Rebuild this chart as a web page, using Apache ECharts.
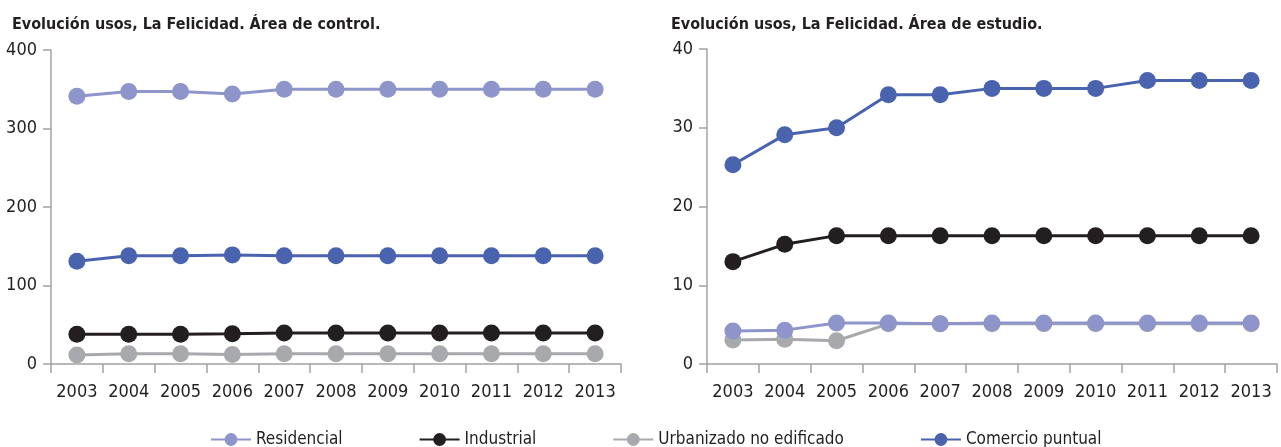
<!DOCTYPE html>
<html>
<head>
<meta charset="utf-8">
<script src="https://cdn.jsdelivr.net/npm/echarts@6/dist/echarts.min.js"></script>
<style>
  html, body { margin: 0; padding: 0; background: #fff; }
  #chart { width: 1281px; height: 447px; }
</style>
</head>
<body>
<div id="chart"></div>
<script>
const years = ['2003', '2004', '2005', '2006', '2007', '2008', '2009', '2010', '2011', '2012', '2013'];

// Área de control
const controlResidencial = [341, 347, 347, 344, 350, 350, 350, 350, 350, 350, 350];
const controlIndustrial = [38, 38, 38, 38.5, 39.5, 39.5, 39.5, 39.5, 39.5, 39.5, 39.5];
const controlUrbanizado = [11.5, 13, 13, 12, 13, 13, 13, 13, 13, 13, 13];
const controlComercio = [131, 138, 138, 139, 138, 138, 138, 138, 138, 138, 138];

// Área de estudio
const estudioResidencial = [4.2, 4.3, 5.2, 5.2, 5.1, 5.2, 5.2, 5.2, 5.2, 5.2, 5.2];
const estudioIndustrial = [13.0, 15.2, 16.3, 16.3, 16.3, 16.3, 16.3, 16.3, 16.3, 16.3, 16.3];
const estudioUrbanizado = [3.05, 3.15, 2.95, 5.1, 5.1, 5.1, 5.1, 5.1, 5.1, 5.1, 5.1];
const estudioComercio = [25.3, 29.1, 30.0, 34.2, 34.2, 35.0, 35.0, 35.0, 36.0, 36.0, 36.0];

const seriesNames = ['Residencial', 'Industrial', 'Urbanizado no edificado', 'Comercio puntual'];
const seriesColors = ['#8d95cb', '#231f20', '#a7a9ac', '#4a63ae'];

const font = "'Liberation Sans Narrow', 'DejaVu Sans Condensed', 'Liberation Sans', sans-serif";
const textColor = '#231f20';
const axisColor = '#a3a3a3';

const chart = echarts.init(document.getElementById('chart'));

function xAxisFor(gridIndex) {
  return {
    type: 'category',
    gridIndex: gridIndex,
    data: years,
    boundaryGap: true,
    axisLine: { lineStyle: { color: axisColor, width: 1.5 } },
    axisTick: { show: true, length: 9, lineStyle: { color: axisColor, width: 1.5 } },
    axisLabel: { color: textColor, fontSize: 18, fontFamily: font, margin: 19, interval: 0 },
    splitLine: { show: false }
  };
}

function yAxisFor(gridIndex, max, interval) {
  return {
    type: 'value',
    gridIndex: gridIndex,
    min: 0,
    max: max,
    interval: interval,
    axisLine: { show: true, lineStyle: { color: axisColor, width: 1.5 } },
    axisTick: { show: true, length: 8, lineStyle: { color: axisColor, width: 1.5 } },
    axisLabel: { color: textColor, fontSize: 18, fontFamily: font, margin: 14 },
    splitLine: { show: false }
  };
}

function lineSeries(i, axisIdx, data) {
  return {
    name: seriesNames[i],
    type: 'line',
    xAxisIndex: axisIdx,
    yAxisIndex: axisIdx,
    data: data,
    symbol: 'circle',
    symbolSize: 17,
    z: i === 2 ? 1 : 2,
    itemStyle: { color: seriesColors[i] },
    lineStyle: { color: seriesColors[i], width: 3 },
    emphasis: { disabled: true },
    animation: false
  };
}

const option = {
  animation: false,
  title: [
    {
      text: 'Evolución usos, La Felicidad. Área de control.',
      left: 7, top: 12,
      textStyle: { fontSize: 16, fontWeight: 'bold', color: textColor, fontFamily: font }
    },
    {
      text: 'Evolución usos, La Felicidad. Área de estudio.',
      left: 666, top: 12,
      textStyle: { fontSize: 16, fontWeight: 'bold', color: textColor, fontFamily: font }
    }
  ],
  legend: {
    data: seriesNames,
    left: 205,
    top: 426,
    itemGap: 76,
    itemWidth: 40,
    itemHeight: 16,
    textStyle: { color: textColor, fontSize: 17, fontFamily: font }
  },
  grid: [
    { left: 51, right: 660, top: 50, bottom: 83 },
    { left: 707, right: 4, top: 49, bottom: 83 }
  ],
  xAxis: [xAxisFor(0), xAxisFor(1)],
  yAxis: [yAxisFor(0, 400, 100), yAxisFor(1, 40, 10)],
  series: [
    lineSeries(0, 0, controlResidencial),
    lineSeries(1, 0, controlIndustrial),
    lineSeries(2, 0, controlUrbanizado),
    lineSeries(3, 0, controlComercio),
    lineSeries(0, 1, estudioResidencial),
    lineSeries(1, 1, estudioIndustrial),
    lineSeries(2, 1, estudioUrbanizado),
    lineSeries(3, 1, estudioComercio)
  ]
};

chart.setOption(option);
</script>
</body>
</html>
